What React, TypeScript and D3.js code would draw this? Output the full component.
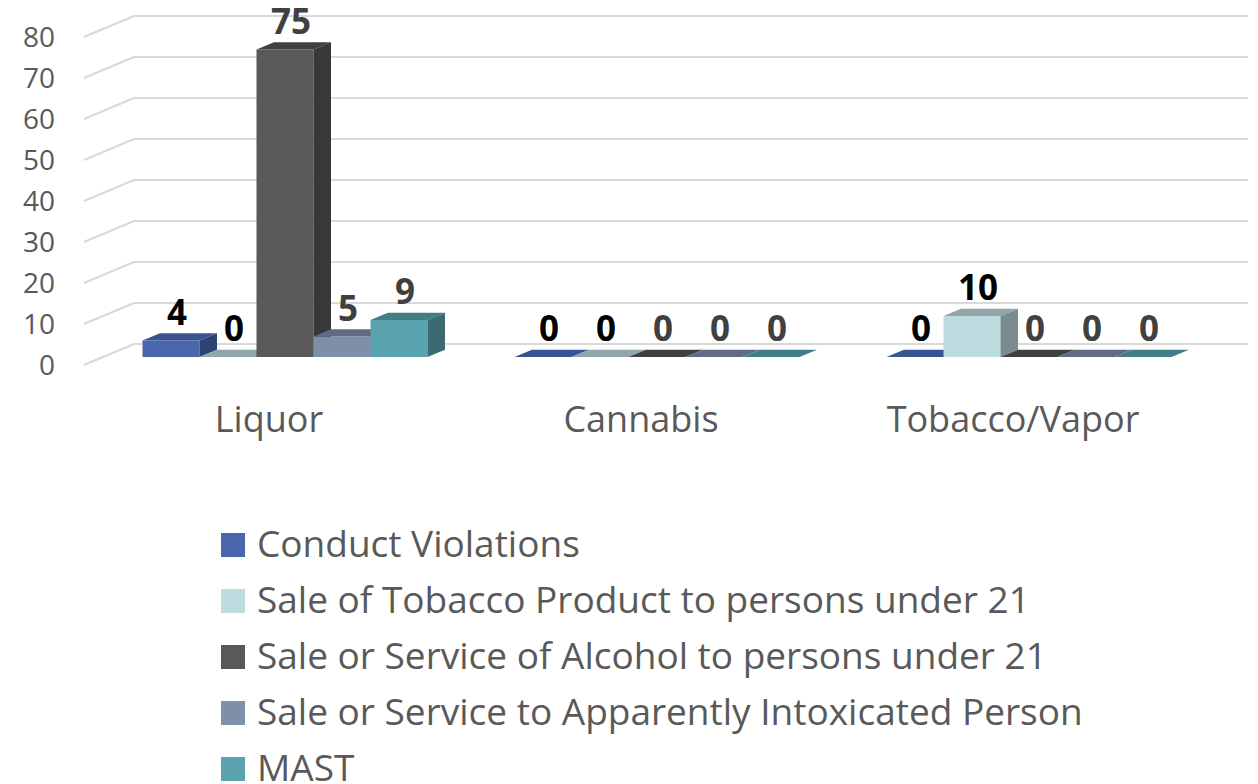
import React from "react";
import * as d3 from "d3";

// ---- data ----
const categories = ["Liquor", "Cannabis", "Tobacco/Vapor"];
const seriesNames = [
  "Conduct Violations",
  "Sale of Tobacco Product to persons under 21",
  "Sale or Service of Alcohol to persons under 21",
  "Sale or Service to Apparently Intoxicated Person",
  "MAST",
];
const conductViolations = [4, 0, 0];
const tobaccoUnder21 = [0, 0, 10];
const alcoholUnder21 = [75, 0, 0];
const intoxicatedPerson = [5, 0, 0];
const mast = [9, 0, 0];
const yTicks = [0, 10, 20, 30, 40, 50, 60, 70, 80];

const seriesValues = [conductViolations, tobaccoUnder21, alcoholUnder21, intoxicatedPerson, mast];

// ---- styles ----
const frontColors = ["#4a66ac", "#bcdce0", "#595959", "#7f8fa9", "#5aa2ae"];
const topColors = ["#3a5392", "#90a6a9", "#404040", "#5f6c84", "#3f7e86"];
const sideColors = ["#2e4274", "#7a8c8f", "#383838", "#5a6780", "#3b6a70"];
const labelColors = ["#000000", "#000000", "#404040", "#404040", "#404040"];
const FONT = "'Open Sans', 'Liberation Sans', sans-serif";

const W = 1258;
const H = 784;
const DX = 50;
const DY = 21;
const Z_FRONT = 0.38;
const Z_BACK = 0.73;

export default function App() {
  const y = d3.scaleLinear().domain([0, 80]).range([365, 37]);
  const xCat = d3.scaleBand<string>().domain(categories).range([80, 1196]).padding(0);
  const groupWidth = xCat.bandwidth() * (285 / 372);
  const xSer = d3
    .scaleBand<string>()
    .domain(seriesNames)
    .range([0, groupWidth])
    .padding(0);

  const proj = (x: number, v: number, z: number): [number, number] => [x + DX * z, y(v) - DY * z];
  const pts = (arr: [number, number][]) => arr.map((p) => p.join(",")).join(" ");

  const wallX = 84;
  const backRight = 1248;

  const bars: React.ReactNode[] = [];
  const labels: React.ReactNode[] = [];
  categories.forEach((cat, ci) => {
    const gx = (xCat(cat) as number) + (xCat.bandwidth() - groupWidth) / 2;
    seriesNames.forEach((s, si) => {
      const v = seriesValues[si][ci];
      const x0 = gx + (xSer(s) as number);
      const x1 = x0 + xSer.bandwidth();
      const key = `${ci}-${si}`;
      if (v > 0) {
        bars.push(
          <polygon
            key={key + "f"}
            points={pts([proj(x0, 0, Z_FRONT), proj(x1, 0, Z_FRONT), proj(x1, v, Z_FRONT), proj(x0, v, Z_FRONT)])}
            fill={frontColors[si]}
          />
        );
      }
      bars.push(
        <polygon
          key={key + "t"}
          points={pts([proj(x0, v, Z_FRONT), proj(x1, v, Z_FRONT), proj(x1, v, Z_BACK), proj(x0, v, Z_BACK)])}
          fill={topColors[si]}
        />
      );
      if (v > 0) {
        bars.push(
          <polygon
            key={key + "s"}
            points={pts([proj(x1, 0, Z_FRONT), proj(x1, 0, Z_BACK), proj(x1, v, Z_BACK), proj(x1, v, Z_FRONT)])}
            fill={sideColors[si]}
          />
        );
      }
      const [lx, ly] = proj((x0 + x1) / 2, v, (Z_FRONT + Z_BACK) / 2);
      labels.push(
        <text
          key={key + "l"}
          x={lx - DX * ((Z_FRONT + Z_BACK) / 2 - Z_FRONT) + 6}
          y={ly - 12}
          textAnchor="middle"
          fontFamily={FONT}
          fontWeight="bold"
          fontSize={35}
          fill={labelColors[si]}
        >
          {v}
        </text>
      );
    });
  });

  return (
    <svg
      width={W}
      height={H}
      style={{ position: "absolute", left: 0, top: 0, background: "#ffffff" }}
    >
      <rect x={0} y={0} width={W} height={H} fill="#ffffff" />
      <g stroke="#d9d9d9" strokeWidth={2} fill="none">
        {yTicks.map((t) => {
          const [fx, fy] = proj(wallX, t, 0);
          const [bx, by] = proj(wallX, t, 1);
          return (
            <g key={t}>
              <line x1={fx} y1={fy} x2={bx} y2={by} />
              <line x1={bx} y1={by} x2={backRight} y2={by} />
            </g>
          );
        })}
      </g>
      <g fontFamily={FONT} fontSize={28} fill="#595959" textAnchor="end">
        {yTicks.map((t) => (
          <text key={t} x={55} y={y(t) + 10}>
            {t}
          </text>
        ))}
      </g>
      <g>{bars}</g>
      <g>{labels}</g>
      <g fontFamily={FONT} fontSize={36} fill="#595959" textAnchor="middle">
        {categories.map((c) => (
          <text key={c} x={(xCat(c) as number) + xCat.bandwidth() / 2 + 3} y={432}>
            {c}
          </text>
        ))}
      </g>
      <g fontFamily={FONT} fontSize={37} fill="#595959">
        {seriesNames.map((s, i) => (
          <g key={s} transform={`translate(221, ${533 + i * 56})`}>
            <rect x={0} y={0} width={24} height={24} fill={frontColors[i]} />
            <text x={36} y={24}>
              {s}
            </text>
          </g>
        ))}
      </g>
    </svg>
  );
}
